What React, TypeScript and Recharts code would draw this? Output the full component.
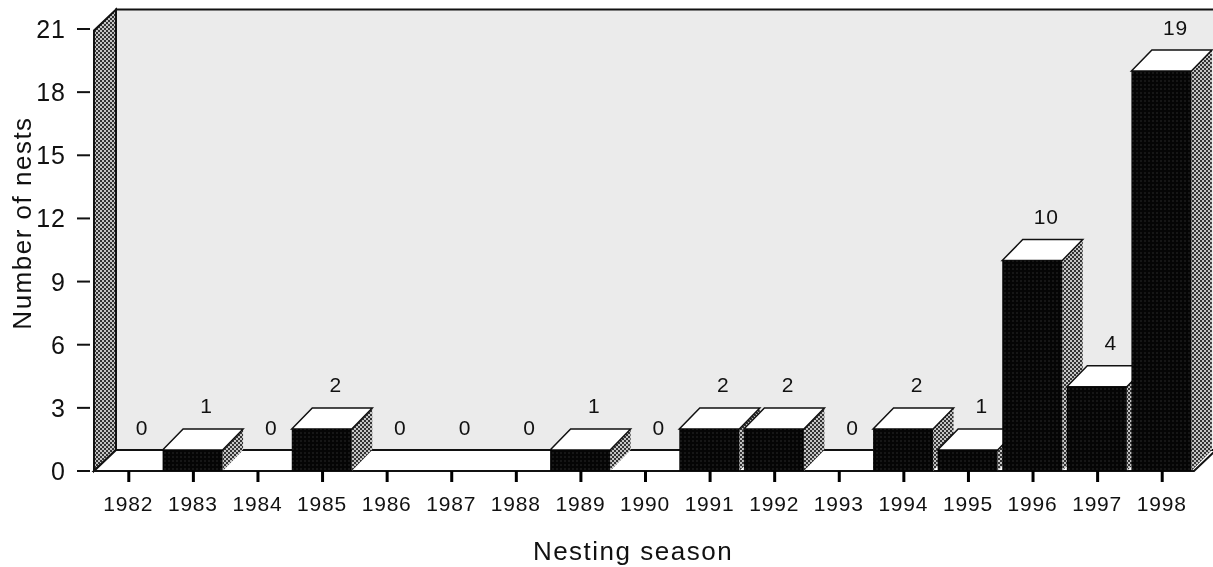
import { BarChart, Bar, XAxis, YAxis, LabelList, usePlotArea } from "recharts";

const seasons = ["1982", "1983", "1984", "1985", "1986", "1987", "1988", "1989", "1990", "1991", "1992", "1993", "1994", "1995", "1996", "1997", "1998"];
const nests = [0, 1, 0, 2, 0, 0, 0, 1, 0, 2, 2, 0, 2, 1, 10, 4, 19];
const yTicks = [0, 3, 6, 9, 12, 15, 18, 21];

const data = seasons.map((season, i) => ({ season, nests: nests[i] }));

const DX = 22;
const BOX_DX = 20.5;
const DY = 21;
const FONT = "'Liberation Sans', Arial, sans-serif";
const INK = "#111";

const Walls = () => {
  const plot = usePlotArea();
  if (!plot) return null;
  const { x, width, height } = plot;
  const bottom = plot.y + height;
  const y = plot.y + 1.5;
  const right = x + width;
  return (
    <g>
      <defs>
        <pattern id="dots" width="4" height="4" patternUnits="userSpaceOnUse">
          <rect width="4" height="4" fill="#c4c4c4" />
          <rect width="2" height="2" fill="#333" />
          <rect x="2" y="2" width="2" height="2" fill="#333" />
        </pattern>
        <pattern id="front" width="4" height="4" patternUnits="userSpaceOnUse">
          <rect width="4" height="4" fill="#050505" />
          <rect width="2" height="2" fill="#161616" />
        </pattern>
      </defs>
      <path
        d={`M${x + DX} ${y - DY}H${right + DX}V${bottom - DY}H${x + DX}Z`}
        fill="#ebebeb"
        stroke="#111"
        strokeWidth={2}
      />
      <path
        d={`M${x} ${y}L${x + DX} ${y - DY}V${bottom - DY}L${x} ${bottom}Z`}
        fill="url(#dots)"
        stroke="#111"
        strokeWidth={2}
      />
      <path
        d={`M${x} ${bottom}L${x + DX} ${bottom - DY}H${right + DX}L${right} ${bottom}Z`}
        fill="#fff"
        stroke="#111"
        strokeWidth={2}
      />
    </g>
  );
};

const Box = ({ x, y, width, height, nests: value }: any) => {
  if (!value) return null;
  const r = x + width;
  const b = y + height;
  return (
    <g>
      <path
        d={`M${r} ${y}L${r + BOX_DX} ${y - DY}V${b - DY}L${r} ${b}Z`}
        fill="url(#dots)"
      />
      <path
        d={`M${x} ${y}L${x + BOX_DX} ${y - DY}H${r + BOX_DX}L${r} ${y}Z`}
        fill="#fff"
        stroke="#111"
        strokeWidth={1.5}
      />
      <rect x={x} y={y} width={width} height={height} fill="url(#front)" />
    </g>
  );
};

const ValueLabel = ({ x, y, width, value }: any) => (
  <text
    x={x + width / 2 + 14}
    y={y - 44}
    textAnchor="middle"
    dominantBaseline="central"
    fontFamily={FONT}
    fontSize={21}
    letterSpacing={0.8}
    fill={INK}
  >
    {value}
  </text>
);

const XTick = ({ x, y, payload }: any) => (
  <g>
    <rect x={x - 1} y={y - 13} width={3} height={11} fill="#000" />
    <text
      x={x}
      y={y + 19}
      textAnchor="middle"
      dominantBaseline="central"
      fontFamily={FONT}
      fontSize={21}
      letterSpacing={0.8}
      fill={INK}
    >
      {payload.value}
    </text>
  </g>
);

const YTick = ({ y, payload }: any) => (
  <g>
    <line x1={77} x2={90} y1={y} y2={y} stroke={INK} strokeWidth={2} />
    <text
      x={66}
      y={y}
      textAnchor="end"
      dominantBaseline="central"
      fontFamily={FONT}
      fontSize={25}
      letterSpacing={1}
      fill={INK}
    >
      {payload.value}
    </text>
  </g>
);

export default function App() {
  return (
    <div style={{ position: "absolute", left: 0, top: 0, width: 1213, height: 567, filter: "blur(0.5px)" }}>
      <BarChart
        width={1213}
        height={567}
        data={data}
        margin={{ top: 29, right: 19, bottom: 0, left: 0 }}
        barSize={60}
      >
        <Walls />
        <XAxis
          dataKey="season"
          height={96}
          padding={{ left: 2, right: 0 }}
          axisLine={false}
          tickLine={false}
          tickSize={11}
          interval={0}
          tick={<XTick />}
          label={{
            value: "Nesting season",
            position: "insideBottom",
            offset: 1,
            dx: -11,
            dy: -6,
            fontFamily: FONT,
            fontSize: 26,
            letterSpacing: 1.5,
            fill: INK,
          }}
        />
        <YAxis
          width={94}
          domain={[0, 21]}
          ticks={yTicks}
          axisLine={false}
          tickLine={false}
          interval={0}
          tick={<YTick />}
          label={{
            value: "Number of nests",
            angle: -90,
            position: "insideLeft",
            offset: 0,
            dx: 22,
            dy: -27,
            fontFamily: FONT,
            fontSize: 26,
            letterSpacing: 1.5,
            fill: INK,
            textAnchor: "middle",
          }}
        />
        <Bar dataKey="nests" isAnimationActive={false} shape={<Box />}>
          <LabelList dataKey="nests" content={<ValueLabel />} />
        </Bar>
      </BarChart>
    </div>
  );
}
